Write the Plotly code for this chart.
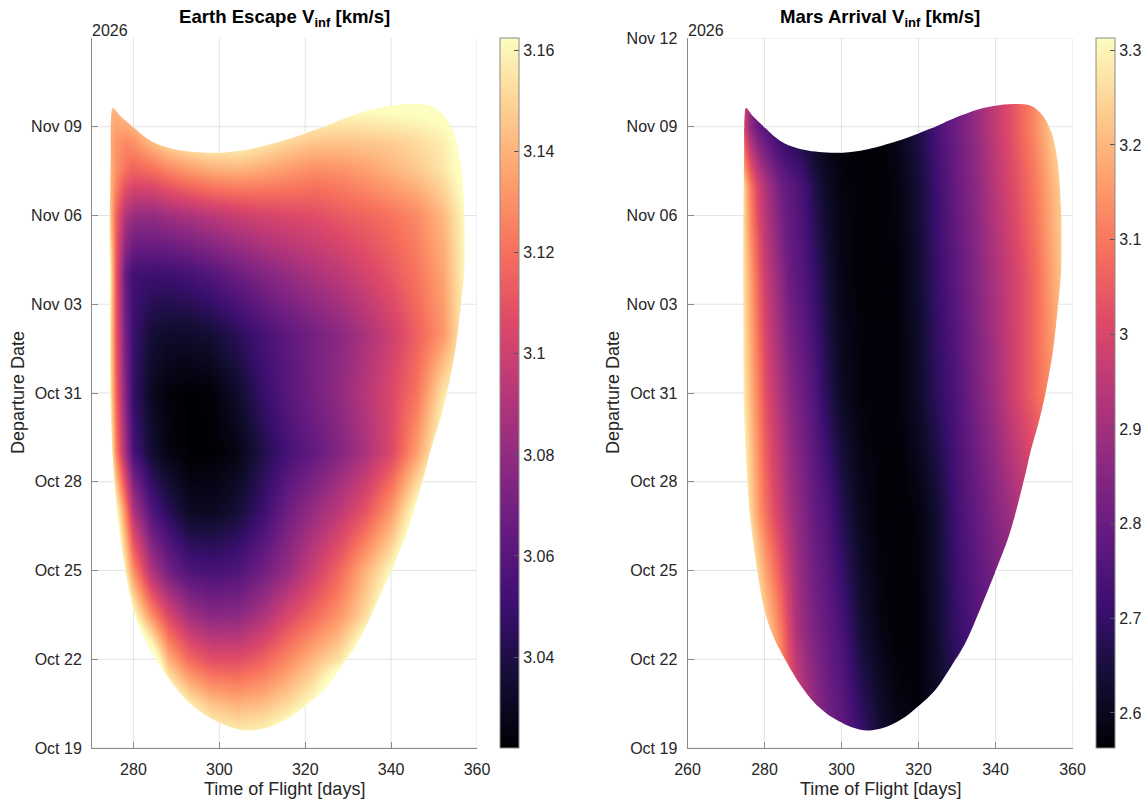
import pandas as pd
import plotly.graph_objects as go

START = pd.Timestamp("2026-10-19")

# ---- axis ticks -------------------------------------------------------------
tick_dates = ["2026-10-19", "2026-10-22", "2026-10-25", "2026-10-28", "2026-10-31",
              "2026-11-03", "2026-11-06", "2026-11-09", "2026-11-12"]
tick_date_labels = ["Oct 19", "Oct 22", "Oct 25", "Oct 28", "Oct 31",
                    "Nov 03", "Nov 06", "Nov 09", "Nov 12"]
earth_tof_ticks = [280, 300, 320, 340, 360]
mars_tof_ticks = [260, 280, 300, 320, 340, 360]
earth_cbar_ticks = [3.04, 3.06, 3.08, 3.1, 3.12, 3.14, 3.16]
earth_cbar_labels = ["3.04", "3.06", "3.08", "3.1", "3.12", "3.14", "3.16"]
mars_cbar_ticks = [2.6, 2.7, 2.8, 2.9, 3.0, 3.1, 3.2, 3.3]
mars_cbar_labels = ["2.6", "2.7", "2.8", "2.9", "3", "3.1", "3.2", "3.3"]

# ---- feasible launch window (time of flight [d], days after Oct 19) --------
# outline traced clockwise, starting at the upper-left spike
window_tof = [275.2, 276.9, 280.0, 282.3, 285.5, 289.3, 293.2, 297.1, 301.0, 304.9,
              308.8, 312.6, 316.5, 320.4, 324.3, 328.2, 332.1, 335.9, 339.8, 344.5,
              349.2, 352.3, 354.7, 356.2, 357.0, 357.1, 357.0, 356.2, 354.9, 353.0,
              351.4, 349.2, 347.6, 343.7, 339.8, 335.9, 332.1, 328.2, 324.3, 320.4,
              316.5, 311.9, 306.8, 302.5, 297.9, 293.2, 289.3, 285.5, 282.3, 280.0,
              277.7, 276.1, 275.2, 274.7, 274.5, 274.5, 274.7, 274.8]
window_day = [21.63, 21.37, 20.98, 20.70, 20.42, 20.25, 20.16, 20.12, 20.13, 20.19,
              20.30, 20.44, 20.60, 20.80, 21.00, 21.23, 21.43, 21.60, 21.71, 21.77,
              21.71, 21.37, 20.75, 19.74, 18.28, 17.15, 16.03, 14.90, 13.40, 12.00,
              11.10, 10.07, 9.17, 7.26, 5.91, 4.66, 3.53, 2.70, 1.95, 1.46,
              1.05, 0.73, 0.59, 0.71, 1.01, 1.50, 2.14, 2.96, 3.77, 4.66,
              6.35, 8.04, 9.73, 11.42, 14.34, 17.72, 19.97, 21.30]

# ---- Earth escape v_inf [km/s] ----------------------------------------------
earth_tof = [270, 274, 276, 278, 280, 284, 288, 293, 298, 304, 310, 316, 322, 328,
             334, 340, 346, 352, 358]
earth_day = [0, 1.5, 3, 4.5, 6, 8, 10, 12, 14, 16, 18, 19.5, 20.5, 21.5, 24]
earth_vinf = [
    [3.2, 3.2, 3.2, 3.2, 3.2, 3.2, 3.2, 3.19, 3.175, 3.168, 3.17, 3.18, 3.2, 3.2, 3.2, 3.2, 3.2, 3.2, 3.2],
    [3.2, 3.2, 3.2, 3.2, 3.2, 3.2, 3.18, 3.158, 3.145, 3.14, 3.143, 3.152, 3.165, 3.2, 3.2, 3.2, 3.2, 3.2, 3.2],
    [3.2, 3.2, 3.2, 3.2, 3.2, 3.18, 3.14, 3.118, 3.108, 3.107, 3.115, 3.128, 3.142, 3.155, 3.18, 3.2, 3.2, 3.2, 3.2],
    [3.2, 3.2, 3.2, 3.19, 3.165, 3.13, 3.105, 3.085, 3.077, 3.078, 3.088, 3.105, 3.118, 3.132, 3.152, 3.18, 3.2, 3.2, 3.2],
    [3.2, 3.2, 3.19, 3.158, 3.13, 3.09, 3.07, 3.057, 3.054, 3.057, 3.068, 3.082, 3.1, 3.118, 3.14, 3.162, 3.19, 3.2, 3.2],
    [3.2, 3.2, 3.165, 3.128, 3.09, 3.058, 3.044, 3.031, 3.03, 3.036, 3.05, 3.068, 3.082, 3.095, 3.11, 3.133, 3.168, 3.19, 3.2],
    [3.2, 3.18, 3.125, 3.085, 3.055, 3.035, 3.026, 3.022, 3.022, 3.026, 3.04, 3.054, 3.064, 3.075, 3.088, 3.105, 3.135, 3.17, 3.18],
    [3.2, 3.17, 3.115, 3.075, 3.048, 3.03, 3.024, 3.022, 3.023, 3.033, 3.048, 3.06, 3.07, 3.08, 3.092, 3.105, 3.122, 3.155, 3.17],
    [3.2, 3.17, 3.11, 3.07, 3.05, 3.036, 3.033, 3.033, 3.036, 3.044, 3.054, 3.062, 3.07, 3.078, 3.088, 3.1, 3.115, 3.132, 3.165],
    [3.2, 3.175, 3.11, 3.065, 3.052, 3.05, 3.05, 3.053, 3.058, 3.066, 3.074, 3.081, 3.088, 3.094, 3.102, 3.111, 3.122, 3.136, 3.165],
    [3.2, 3.155, 3.115, 3.09, 3.082, 3.08, 3.084, 3.088, 3.093, 3.098, 3.102, 3.105, 3.107, 3.112, 3.116, 3.121, 3.128, 3.142, 3.165],
    [3.2, 3.145, 3.13, 3.12, 3.115, 3.118, 3.125, 3.132, 3.137, 3.139, 3.136, 3.132, 3.128, 3.13, 3.134, 3.14, 3.146, 3.155, 3.17],
    [3.2, 3.14, 3.132, 3.128, 3.13, 3.142, 3.152, 3.158, 3.162, 3.162, 3.157, 3.15, 3.146, 3.145, 3.146, 3.148, 3.152, 3.158, 3.17],
    [3.2, 3.14, 3.14, 3.145, 3.15, 3.16, 3.165, 3.168, 3.17, 3.17, 3.168, 3.166, 3.164, 3.162, 3.162, 3.163, 3.164, 3.166, 3.17],
    [3.2, 3.2, 3.2, 3.2, 3.2, 3.2, 3.2, 3.2, 3.2, 3.2, 3.2, 3.2, 3.2, 3.2, 3.2, 3.2, 3.2, 3.2, 3.2],
]

# ---- Mars arrival v_inf [km/s] ----------------------------------------------
mars_tof = [270, 274, 276, 278, 280, 282, 284, 286, 288, 290, 293, 296, 300, 305, 310,
            315, 320, 325, 330, 335, 340, 345, 350, 355, 360]
mars_day = [0, 4, 8, 12, 16, 19, 21, 24]
mars_vinf = [
    [3.5, 3.45, 3.42, 3.38, 3.33, 3.28, 3.2, 3.12, 3.04, 2.97, 2.9, 2.83, 2.79, 2.72, 2.64, 2.59, 2.575, 2.6, 2.66, 2.72, 2.77, 2.81, 2.85, 2.89, 2.93],
    [3.5, 3.45, 3.4, 3.33, 3.26, 3.19, 3.11, 3.02, 2.93, 2.88, 2.83, 2.79, 2.74, 2.64, 2.585, 2.565, 2.57, 2.63, 2.705, 2.76, 2.8, 2.84, 2.88, 2.92, 2.96],
    [3.45, 3.36, 3.26, 3.165, 3.095, 3.03, 2.975, 2.925, 2.88, 2.845, 2.79, 2.755, 2.675, 2.6, 2.57, 2.565, 2.58, 2.635, 2.73, 2.79, 2.85, 2.91, 2.97, 3.04, 3.1],
    [3.4, 3.31, 3.21, 3.12, 3.035, 2.97, 2.92, 2.875, 2.835, 2.8, 2.755, 2.68, 2.61, 2.575, 2.568, 2.575, 2.62, 2.69, 2.755, 2.83, 2.9, 2.99, 3.07, 3.15, 3.23],
    [3.45, 3.3, 3.18, 3.07, 2.98, 2.92, 2.865, 2.81, 2.78, 2.755, 2.705, 2.645, 2.59, 2.57, 2.565, 2.575, 2.63, 2.71, 2.78, 2.85, 2.92, 2.99, 3.07, 3.18, 3.28],
    [3.5, 3.3, 3.12, 3.0, 2.93, 2.87, 2.815, 2.785, 2.76, 2.73, 2.665, 2.615, 2.58, 2.568, 2.568, 2.585, 2.64, 2.72, 2.8, 2.865, 2.945, 3.02, 3.1, 3.2, 3.3],
    [3.2, 3.05, 2.88, 2.8, 2.76, 2.72, 2.69, 2.67, 2.65, 2.63, 2.6, 2.58, 2.57, 2.565, 2.57, 2.6, 2.66, 2.74, 2.81, 2.88, 2.96, 3.04, 3.13, 3.24, 3.3],
    [3.2, 3.05, 2.88, 2.8, 2.76, 2.72, 2.69, 2.67, 2.65, 2.63, 2.6, 2.58, 2.57, 2.565, 2.57, 2.6, 2.66, 2.74, 2.81, 2.88, 2.96, 3.04, 3.13, 3.24, 3.3],
]

MAGMA = [[0.0, "#000004"], [0.1, "#140e36"], [0.2, "#3b0f70"], [0.3, "#641a80"],
         [0.4, "#8c2981"], [0.5, "#b73779"], [0.6, "#de4968"], [0.7, "#f7705c"],
         [0.8, "#fe9f6d"], [0.9, "#fecf92"], [1.0, "#fcfdbf"]]

W, H = 1148, 801
FONT = "Liberation Sans, Arial, Helvetica, sans-serif"
TEXT = "#262626"
AXIS = "#8a8a8a"
GRID = "#e3e3e3"


def px(x):
    return x / W


def py(y):
    return 1 - y / H


def as_dates(days):
    return [None if d is None else START + pd.Timedelta(days=float(d)) for d in days]


tick_days = [(pd.Timestamp(t) - START).days for t in tick_dates]


def crossings(a_vals, b_vals, c):
    """Positions along b where the closed window outline crosses a == c."""
    out = []
    n = len(a_vals)
    for i in range(n):
        a1, b1 = a_vals[i], b_vals[i]
        a2, b2 = a_vals[(i + 1) % n], b_vals[(i + 1) % n]
        if (a1 <= c < a2) or (a2 <= c < a1):
            out.append(b1 + (c - a1) * (b2 - b1) / (a2 - a1))
    return sorted(out)


def outside_runs(cuts, lo, hi):
    pts = [lo] + cuts + [hi]
    return [(pts[k], pts[k + 1]) for k in range(0, len(pts) - 1, 2)]


def grid_lines(x_ticks, x_lo, x_hi, d_ticks):
    gx, gd = [], []
    for c in x_ticks:
        for a, b in outside_runs(crossings(window_tof, window_day, c), 0, 24):
            gx += [c, c, None]
            gd += [a, b, None]
    for d in d_ticks:
        for a, b in outside_runs(crossings(window_day, window_tof, d), x_lo, x_hi):
            gx += [a, b, None]
            gd += [d, d, None]
    return gx, gd


def window_mask(x_lo, x_hi, d_lo, d_hi):
    # white frame (clockwise) plus the window outline run the other way,
    # so the window becomes a hole in the fill
    xs = [x_lo, x_hi, x_hi, x_lo, x_lo, None] + [window_tof[0]] + window_tof[:0:-1] + [window_tof[0]]
    ds = [d_hi, d_hi, d_lo, d_lo, d_hi, None] + [window_day[0]] + window_day[:0:-1] + [window_day[0]]
    return xs, ds


panels = [
    dict(xa="x", ya="y", tof=earth_tof, day=earth_day, z=earth_vinf,
         zmin=3.022, zmax=3.1625, cb_ticks=earth_cbar_ticks, cb_labels=earth_cbar_labels,
         xr=[270.35, 360], xticks=earth_tof_ticks, left=92, right=477, cbx=500,
         dticks=tick_days[:-1], dlabels=tick_date_labels[:-1],
         title="<b>Earth Escape V<sub>inf</sub> [km/s]</b>"),
    dict(xa="x2", ya="y2", tof=mars_tof, day=mars_day, z=mars_vinf,
         zmin=2.563, zmax=3.313, cb_ticks=mars_cbar_ticks, cb_labels=mars_cbar_labels,
         xr=[260, 360], xticks=mars_tof_ticks, left=687.5, right=1072.5, cbx=1096,
         dticks=tick_days, dlabels=tick_date_labels,
         title="<b>Mars Arrival V<sub>inf</sub> [km/s]</b>"),
]

TOP, BOTTOM = 38, 748

fig = go.Figure()
annotations = []
layout_axes = {}

for i, p in enumerate(panels):
    fig.add_trace(go.Heatmap(
        x=p["tof"], y=as_dates(p["day"]), z=p["z"], zsmooth="best",
        colorscale=MAGMA, zmin=p["zmin"], zmax=p["zmax"],
        xaxis=p["xa"], yaxis=p["ya"], hoverinfo="skip",
        colorbar=dict(
            x=px(p["cbx"]), xanchor="left", xpad=0, ypad=0,
            y=py((TOP + BOTTOM) / 2), yanchor="middle",
            len=(BOTTOM - TOP) / H, lenmode="fraction",
            thickness=19, thicknessmode="pixels",
            outlinecolor=AXIS, outlinewidth=1,
            tickvals=p["cb_ticks"], ticktext=p["cb_labels"],
            ticks="inside", ticklen=5, tickcolor="#555555",
            tickfont=dict(family=FONT, size=16, color=TEXT),
        ),
    ))

    mx, md = window_mask(250, 370, -3, 27)
    fig.add_trace(go.Scatter(
        x=mx, y=as_dates(md), mode="lines", fill="toself", fillcolor="white",
        line=dict(width=0, color="white", shape="spline", smoothing=0.9),
        connectgaps=False, xaxis=p["xa"], yaxis=p["ya"],
        hoverinfo="skip", showlegend=False,
    ))

    gx, gd = grid_lines(p["xticks"], p["xr"][0], p["xr"][1], p["dticks"])
    fig.add_trace(go.Scatter(
        x=gx, y=as_dates(gd), mode="lines", line=dict(width=1, color=GRID),
        xaxis=p["xa"], yaxis=p["ya"], hoverinfo="skip", showlegend=False,
    ))

    xkey = "xaxis" if i == 0 else "xaxis2"
    ykey = "yaxis" if i == 0 else "yaxis2"
    layout_axes[xkey] = dict(
        domain=[px(p["left"]), px(p["right"])], anchor=p["ya"], range=p["xr"],
        tickvals=p["xticks"], showgrid=False, zeroline=False,
        showline=True, linecolor=AXIS, linewidth=1,
        ticks="inside", ticklen=6, tickcolor=AXIS, layer="above traces",
        tickfont=dict(family=FONT, size=16, color=TEXT), ticklabelstandoff=7,
    )
    layout_axes[ykey] = dict(
        type="date", domain=[py(BOTTOM), py(TOP)], anchor=p["xa"],
        range=[tick_dates[0], tick_dates[-1]],
        tickvals=as_dates(p["dticks"]), ticktext=p["dlabels"],
        showgrid=False, zeroline=False, showline=True, linecolor=AXIS, linewidth=1,
        ticks="inside", ticklen=6, tickcolor=AXIS, layer="above traces",
        tickfont=dict(family=FONT, size=16, color=TEXT), ticklabelstandoff=6,
    )

    cx = (p["left"] + p["right"]) / 2
    annotations += [
        dict(text=p["title"], x=px(cx), y=py(18), xref="paper", yref="paper",
             xanchor="center", yanchor="middle", showarrow=False,
             font=dict(family=FONT, size=18.6, color="#000000")),
        dict(text="2026", x=px(p["left"] - 2), y=py(31), xref="paper", yref="paper",
             xanchor="left", yanchor="middle", showarrow=False,
             font=dict(family=FONT, size=16, color=TEXT)),
        dict(text="Time of Flight [days]", x=px(cx), y=py(789), xref="paper", yref="paper",
             xanchor="center", yanchor="middle", showarrow=False,
             font=dict(family=FONT, size=18, color=TEXT)),
        dict(text="Departure Date", x=px(18 if i == 0 else 613), y=py(393),
             xref="paper", yref="paper", xanchor="center", yanchor="middle",
             textangle=-90, showarrow=False,
             font=dict(family=FONT, size=18, color=TEXT)),
    ]

fig.update_layout(
    width=W, height=H, margin=dict(l=0, r=0, t=0, b=0),
    paper_bgcolor="white", plot_bgcolor="white", template="none",
    showlegend=False, annotations=annotations, **layout_axes,
)

fig.write_html("out.html")
